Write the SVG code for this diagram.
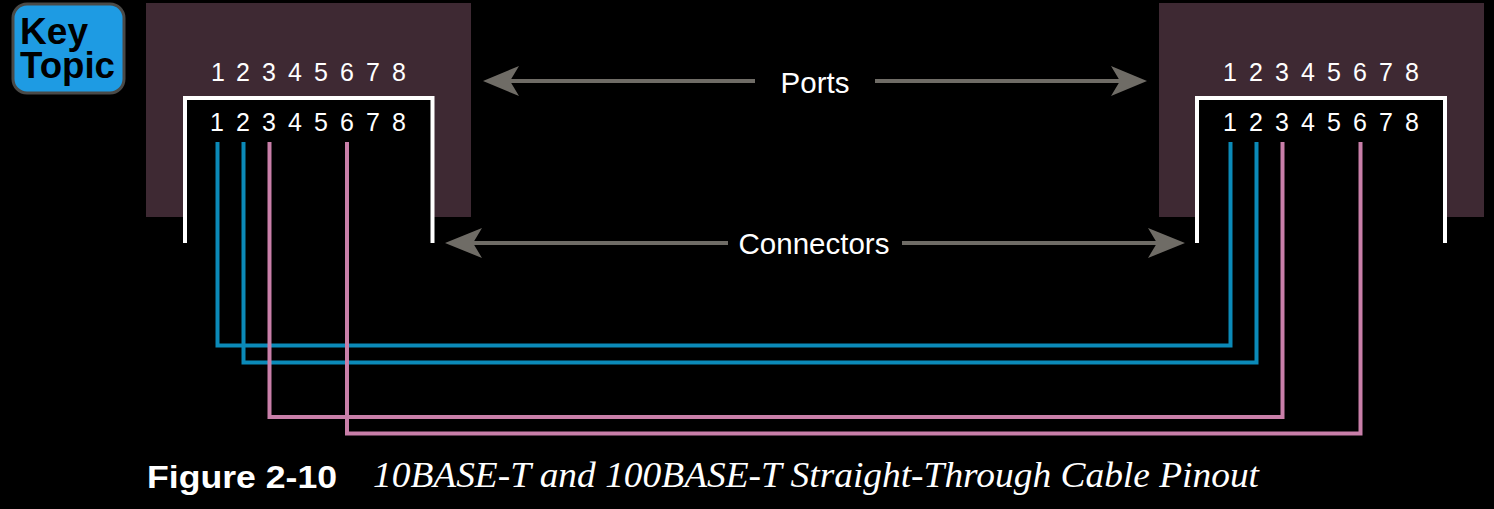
<svg xmlns="http://www.w3.org/2000/svg" width="1494" height="509" viewBox="0 0 1494 509">
<style>
.s{font-family:"Liberation Sans",Arial,sans-serif;fill:#fff}
.pin{font-size:25px;text-anchor:middle}
.lbl{font-size:29.500px;text-anchor:middle}
.wall{fill:#3e2933}
.jack{fill:#000;stroke:#fff;stroke-width:4}
.wire{fill:none;stroke-width:4}
.b{stroke:#0b8ab8}
.p{stroke:#c97fa9}
.arr{stroke:#6f6c66;stroke-width:4;fill:none}
.hd{fill:#6f6c66}
</style>
<rect width="1494" height="509" fill="#000"/>
<g id="key-topic">
<rect x="13" y="4" width="111" height="89" rx="14" fill="#1e9be3" stroke="#4a4a48" stroke-width="3"/>
<text x="20" y="43.500" font-family="Liberation Sans,Arial,sans-serif" font-weight="bold" font-size="36" fill="#000" textLength="68" lengthAdjust="spacingAndGlyphs">Key</text>
<text x="20" y="77.500" font-family="Liberation Sans,Arial,sans-serif" font-weight="bold" font-size="36" fill="#000" textLength="95" lengthAdjust="spacingAndGlyphs">Topic</text>
</g>
<g id="left-device">
<rect class="wall" x="146" y="3" width="325" height="214"/>
<path class="jack" d="M185 243V98H432.500V243"/>
<g class="s pin">
<text x="218" y="81">1</text><text x="243" y="81">2</text><text x="269" y="81">3</text><text x="295" y="81">4</text><text x="321" y="81">5</text><text x="347" y="81">6</text><text x="373" y="81">7</text><text x="399" y="81">8</text>
<text x="217" y="131">1</text><text x="243" y="131">2</text><text x="269" y="131">3</text><text x="295" y="131">4</text><text x="321" y="131">5</text><text x="347" y="131">6</text><text x="373" y="131">7</text><text x="399" y="131">8</text>
</g>
</g>
<g id="right-device">
<rect class="wall" x="1159" y="3" width="325" height="214"/>
<path class="jack" d="M1197 243V98H1445V243"/>
<g class="s pin">
<text x="1230" y="81">1</text><text x="1256" y="81">2</text><text x="1282" y="81">3</text><text x="1308" y="81">4</text><text x="1334" y="81">5</text><text x="1360" y="81">6</text><text x="1386" y="81">7</text><text x="1412" y="81">8</text>
<text x="1230" y="131">1</text><text x="1256" y="131">2</text><text x="1282" y="131">3</text><text x="1308" y="131">4</text><text x="1334" y="131">5</text><text x="1360" y="131">6</text><text x="1386" y="131">7</text><text x="1412" y="131">8</text>
</g>
</g>
<g id="connectors">
<path class="wire b" d="M217.500 142V345.500H1230.500V142"/>
<path class="wire b" d="M243.500 142V362.500H1256.500V142"/>
<path class="wire p" d="M269.500 142V417H1282.500V142"/>
<path class="wire p" d="M347 142V433.500H1360.500V142"/>
<path class="arr" d="M505 81H755M875 81H1125"/>
<path class="hd" d="M483 81L519 66L510 81L519 96Z"/>
<path class="hd" d="M1147 81L1111 66L1120 81L1111 96Z"/>
<path class="arr" d="M468 243H728M902 243H1162"/>
<path class="hd" d="M445 243L482 228L473 243L482 258Z"/>
<path class="hd" d="M1185 243L1148 228L1157 243L1148 258Z"/>
</g>
<g id="labels">
<text class="s lbl" x="815" y="93">Ports</text>
<text class="s lbl" x="814" y="254">Connectors</text>
</g>
<g id="caption">
<text x="147" y="487.500" font-family="Liberation Sans,Arial,sans-serif" font-weight="bold" font-size="32" fill="#fff" textLength="190" lengthAdjust="spacingAndGlyphs">Figure 2-10</text>
<text x="373" y="487" font-family="Liberation Serif,Times New Roman,serif" font-style="italic" font-size="35" fill="#fff" textLength="886" lengthAdjust="spacingAndGlyphs">10BASE-T and 100BASE-T Straight-Through Cable Pinout</text>
</g>
</svg>
